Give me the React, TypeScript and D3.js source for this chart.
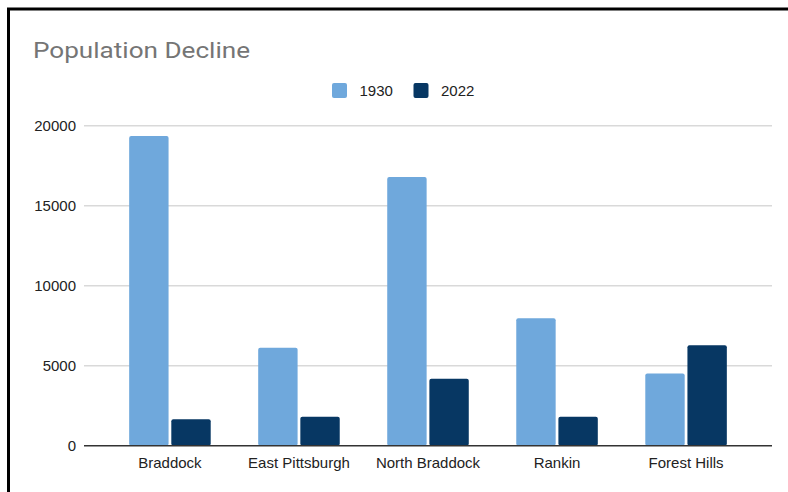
import { scaleBand, scaleLinear } from "d3"

const categories = ["Braddock", "East Pittsburgh", "North Braddock", "Rankin", "Forest Hills"]
const seriesKeys = ["1930", "2022"]
const values1930 = [19350, 6120, 16800, 7960, 4520]
const values2022 = [1650, 1810, 4190, 1810, 6280]
const yTickValues = [0, 5000, 10000, 15000, 20000]

const seriesColors: Record<string, string> = { "1930": "#6fa8dc", "2022": "#073763" }

export default function App() {
  const width = 788
  const height = 492
  const plot = { left: 84, right: 772, top: 125.7, bottom: 445.7 }

  const xScale = scaleBand<string>().domain(categories).range([plot.left, plot.right]).paddingInner(0.368).paddingOuter(0.35)
  const subScale = scaleBand<string>().domain(seriesKeys).range([0, xScale.bandwidth()]).paddingInner(0.065)
  const yScale = scaleLinear().domain([0, 20000]).range([plot.bottom, plot.top])

  const seriesValues: Record<string, number[]> = { "1930": values1930, "2022": values2022 }
  const labelFont = "'Liberation Sans', Arial, sans-serif"

  return (
    <svg width={width} height={height} style={{ position: "absolute", left: 0, top: 0, background: "#fff" }}>
      <rect x={0} y={0} width={width} height={height} fill="#fff" />
      <rect x={8.5} y={9} width={width + 20} height={height + 20} fill="none" stroke="#000" strokeWidth={3} />

      <text x={33} y={57.5} fontFamily="Roboto, sans-serif" fontSize={22.5} textLength={217} lengthAdjust="spacingAndGlyphs" fill="#757575">
        Population Decline
      </text>

      {seriesKeys.map((key, i) => {
        const lx = i === 0 ? 332 : 413.5
        return (
          <g key={key}>
            <rect x={lx} y={83} width={15} height={15} rx={2} fill={seriesColors[key]} />
            <text x={lx + 27.5} y={90.5} dy="0.35em" fontFamily={labelFont} fontSize={15} fill="#222">{key}</text>
          </g>
        )
      })}

      {yTickValues.map((tick) => (
        <g key={tick}>
          {tick !== 0 && (
            <line x1={plot.left} x2={plot.right} y1={yScale(tick)} y2={yScale(tick)} stroke="#d9d9d9" strokeWidth={1.5} />
          )}
          <text x={76} y={yScale(tick)} dy="0.35em" textAnchor="end" fontFamily={labelFont} fontSize={15} fill="#222">
            {tick}
          </text>
        </g>
      ))}

      {categories.map((cat, ci) => (
        <g key={cat} transform={`translate(${xScale(cat)},0)`}>
          {seriesKeys.map((key) => {
            const v = seriesValues[key][ci]
            return (
              <rect
                key={key}
                x={subScale(key)}
                y={yScale(v)}
                width={subScale.bandwidth()}
                height={yScale(0) - yScale(v)}
                rx={2}
                fill={seriesColors[key]}
              />
            )
          })}
          <text x={xScale.bandwidth() / 2} y={468} textAnchor="middle" fontFamily={labelFont} fontSize={15} fill="#222">
            {cat}
          </text>
        </g>
      ))}

      <line x1={plot.left} x2={plot.right} y1={plot.bottom} y2={plot.bottom} stroke="#333" strokeWidth={1.5} />
    </svg>
  )
}
